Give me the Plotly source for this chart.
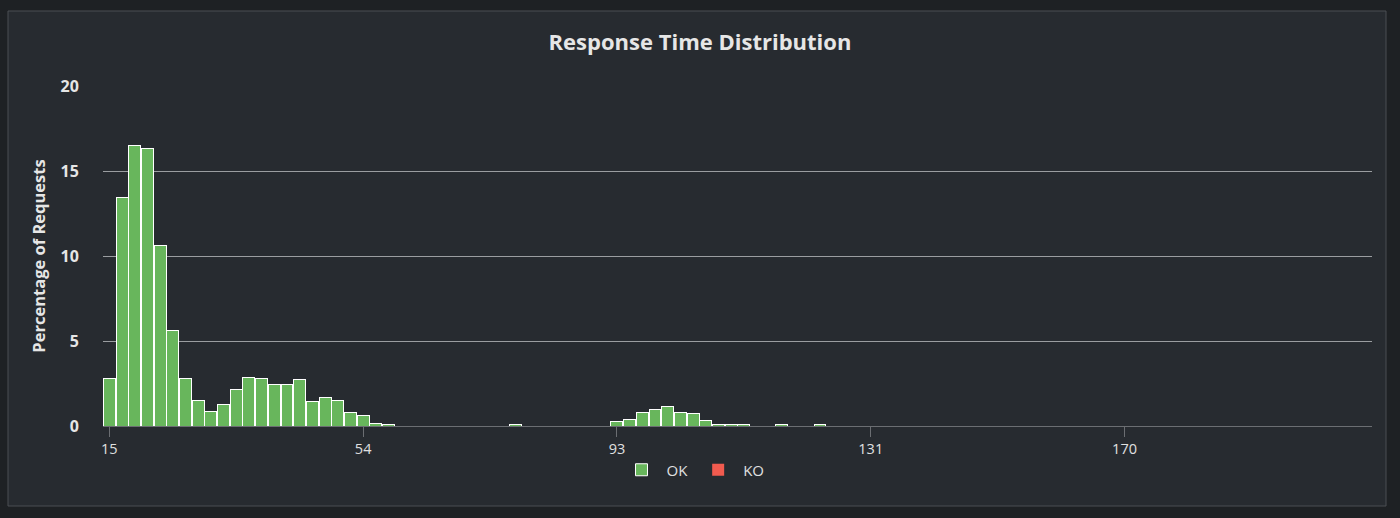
import plotly.graph_objects as go

# Response time categories (ms)
categories = [15, 17, 19, 21, 23, 25, 27, 29, 31, 32,
              34, 36, 38, 40, 42, 44, 46, 48, 50, 52,
              54, 56, 58, 60, 62, 64, 65, 67, 69, 71,
              73, 75, 77, 79, 81, 83, 85, 87, 89, 91,
              93, 95, 96, 98, 100, 102, 104, 106, 108, 110,
              112, 114, 116, 118, 120, 122, 124, 126, 128, 129,
              131, 133, 135, 137, 139, 141, 143, 145, 147, 149,
              151, 153, 155, 157, 159, 160, 162, 164, 166, 168,
              170, 172, 174, 176, 178, 180, 182, 184, 186, 188,
              190, 192, 193, 195, 197, 199, 201, 203, 205, 207]

# Percentage of requests, OK
ok_values = [2.8, 13.45, 16.5, 16.35, 10.6, 5.6, 2.8, 1.5, 0.85, 1.25,
             2.16, 2.88, 2.8, 2.47, 2.47, 2.73, 1.43, 1.69, 1.51, 0.8,
             0.63, 0.16, 0.08, 0, 0, 0, 0, 0, 0, 0,
             0, 0, 0.08, 0, 0, 0, 0, 0, 0, 0,
             0.24, 0.4, 0.78, 0.97, 1.12, 0.82, 0.74, 0.32, 0.08, 0.08,
             0.08, 0, 0, 0.08, 0, 0, 0.08, 0, 0, 0,
             0, 0, 0, 0, 0, 0, 0, 0, 0, 0,
             0, 0, 0, 0, 0, 0, 0, 0, 0, 0,
             0, 0, 0, 0, 0, 0, 0, 0, 0, 0,
             0, 0, 0, 0, 0, 0, 0, 0, 0, 0]

# Percentage of requests, KO
ko_values = [0] * 100

tick_labels = [15, 54, 93, 131, 170]

x_cat = [str(c) for c in categories]
FONT = "Open Sans, sans-serif"

fig = go.Figure()
fig.add_trace(go.Bar(
    x=x_cat, y=[v if v > 0 else None for v in ok_values], name="OK",
    marker=dict(color="#68b65c", line=dict(color="#ffffff", width=1)),
))
fig.add_trace(go.Bar(
    x=x_cat, y=[v if v > 0 else None for v in ko_values], name="KO",
    marker=dict(color="#f15b4f", line=dict(color="#ffffff", width=0)),
))

W, H = 1400, 518
L, R, T, B = 103, 28, 86, 92
pw, ph = W - L - R, H - T - B

def px_x(p):
    return (p - L) / pw

def px_y(p):
    return (H - B - p) / ph

fig.add_shape(type="rect", xref="paper", yref="paper",
              x0=px_x(8), x1=px_x(1386), y0=px_y(506), y1=px_y(11),
              fillcolor="#272b30", line=dict(color="#4a4e52", width=1),
              layer="below")

fig.update_layout(
    width=W, height=H,
    margin=dict(l=L, r=R, t=T, b=B),
    paper_bgcolor="#1e2124",
    plot_bgcolor="rgba(0,0,0,0)",
    barmode="stack",
    bargap=0.06,
    font=dict(family=FONT, color="#e0e0e0"),
    title=dict(text="<b>Response Time Distribution</b>", x=0.5, xref="container",
               xanchor="center",
               y=1 - 42 / H, yanchor="middle",
               font=dict(size=22, color="#e6e6e6", family=FONT)),
    showlegend=True,
    legend=dict(orientation="h", x=px_x(693), xanchor="center",
                y=px_y(470), yanchor="middle",
                font=dict(size=15, color="#e0e0e0", family=FONT),
                bgcolor="rgba(0,0,0,0)", itemwidth=40, traceorder="normal"),
    xaxis=dict(type="category", categoryorder="array", categoryarray=x_cat,
               range=[-0.5, 99.5],
               tickmode="array", tickvals=[str(t) for t in tick_labels],
               ticktext=[str(t) for t in tick_labels],
               showline=True, linecolor="#6b6e72", linewidth=1,
               ticks="outside", ticklen=10, tickcolor="#6b6e72",
               showgrid=False, zeroline=False,
               tickfont=dict(size=14.5, color="#e0e0e0", family=FONT)),
    yaxis=dict(range=[0, 20], tickvals=[0, 5, 10, 15, 20],
               ticktext=["<b>0</b>", "<b>5</b>", "<b>10</b>", "<b>15</b>", "<b>20</b>"],
               showgrid=True, gridcolor="#9a9da0", gridwidth=1,
               zeroline=False, showline=False,
               ticks="outside", ticklen=20, tickcolor="rgba(0,0,0,0)",
               tickfont=dict(size=16, color="#e6e6e6", family=FONT),
               title=dict(text="<b>Percentage of Requests</b>", standoff=10,
                          font=dict(size=16.5, color="#e6e6e6", family=FONT))),
)

fig.write_html("out.html",
               config={"displayModeBar": False},
               post_script="document.body.style.margin='0';"
                           "document.body.style.background='#1e2124';"
                           "document.body.style.overflow='hidden';")
